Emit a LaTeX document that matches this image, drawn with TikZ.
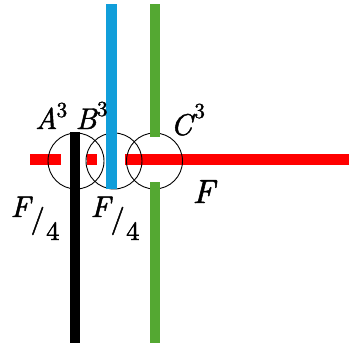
\documentclass[tikz,border=0pt]{standalone}
\usepackage{fontspec}
\newfontface\labit{lmroman10-italic.otf}[FakeBold=1.5]
\newfontface\labup{lmroman10-regular.otf}[FakeBold=1.5]
\definecolor{myblue}{RGB}{17,158,218}
\definecolor{mygreen}{RGB}{84,168,50}
\newcommand\mypow[2]{\kern#1pt\raisebox{#2pt}{\labup\fontsize{21.5}{26}\selectfont 3}}
\begin{document}
\begin{tikzpicture}[x=1pt,y=-1pt,
  bar/.style={line width=10.5pt},
  ring/.style={draw=black,line width=0.9pt},
  lab/.style={inner sep=0pt,anchor=base west,font=\labit\fontsize{30}{36}\selectfont},
  bigf/.style={inner sep=0pt,anchor=base west,font=\labit\fontsize{33.5}{40}\selectfont},
  slash/.style={inner sep=0pt,anchor=base west,font=\labup\fontsize{28}{34}\selectfont},
  den/.style={inner sep=0pt,anchor=base west,font=\labup\fontsize{26.5}{32}\selectfont}]
\useasboundingbox (0,0) rectangle (349,343);
% red horizontal bar (three pieces)
\draw[bar,red] (30,159.5) -- (61,159.5);
\draw[bar,red] (87,159.5) -- (97,159.5);
\draw[bar,red] (125,159.5) -- (349,159.5);
% circles
\node[ring,circle,minimum size=56pt,inner sep=0pt] (ca) at (76,161) {};
\node[ring,circle,minimum size=56pt,inner sep=0pt] (cb) at (114,161) {};
\node[ring,circle,minimum size=56pt,inner sep=0pt] (cc) at (154.5,161) {};
% vertical bars
\draw[bar,black,line width=10pt] (75,132) -- (75,343);
\draw[bar,myblue] (111.5,4) -- (111.5,189);
\draw[bar,mygreen] (155,4) -- (155,137);
\draw[bar,mygreen] (155,182) -- (155,343);
% labels
\node[lab] (a) at (35,129) {A\mypow{-1}{12}};
\node[lab] (b) at (75.5,129) {B\mypow{0}{13}};
\node[lab] (c) at (170.5,135) {C\mypow{2}{17}};
\node[bigf] (f) at (192.5,203) {F};
\node[lab] (f1) at (10.5,217) {F};
\node[slash] (s1) at (30.5,228) {/};
\node[den] (n1) at (46,240) {4};
\node[lab] (f2) at (90.5,217) {F};
\node[slash] (s2) at (110.5,228) {/};
\node[den] (n2) at (126,240) {4};
\end{tikzpicture}
\end{document}
